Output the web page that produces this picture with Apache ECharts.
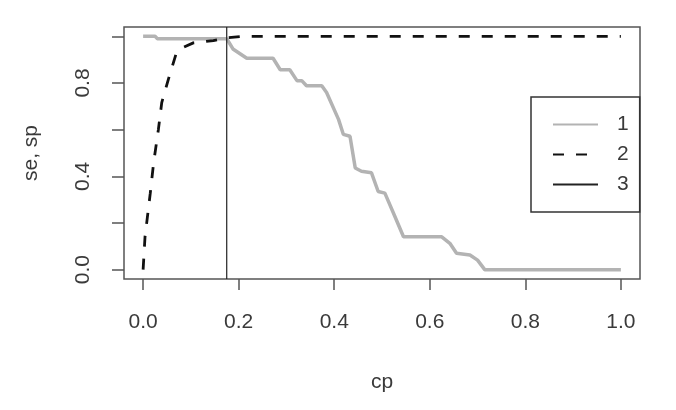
<!DOCTYPE html>
<html>
<head>
<meta charset="utf-8">
<script src="https://cdn.jsdelivr.net/npm/echarts@6/dist/echarts.min.js"></script>
<style>html,body{margin:0;padding:0;background:#fff}#c{width:676px;height:410px}</style>
</head>
<body>
<div id="c"></div>
<script>
// ---- data ----
const seCp = [0,0.025,0.03,0.175,0.188,0.217,0.272,0.287,0.307,0.322,0.332,0.342,0.374,0.384,0.409,0.419,0.433,0.444,0.457,0.478,0.492,0.506,0.527,0.545,0.625,0.642,0.656,0.684,0.70,0.715,1.0];
const seVal = [1.0,1.0,0.99,0.99,0.946,0.906,0.906,0.857,0.857,0.81,0.81,0.788,0.788,0.759,0.644,0.58,0.572,0.436,0.422,0.415,0.335,0.328,0.228,0.141,0.141,0.113,0.07,0.063,0.041,0.0,0.0];
const spCp = [0,0.004,0.015,0.022,0.032,0.039,0.053,0.07,0.077,0.105,0.147,0.175,0.21,1.0];
const spVal = [0,0.141,0.328,0.458,0.601,0.716,0.817,0.932,0.946,0.972,0.982,0.994,1.0,1.0];
const cutoff = 0.175;
const xRange = [-0.04, 1.04];
const yRange = [-0.04, 1.04];
const xTicks = [0, 0.2, 0.4, 0.6, 0.8, 1.0];
const yTicks = [0, 0.2, 0.4, 0.6, 0.8, 1.0];
const yLabelTicks = [0, 0.4, 0.8];
const legendNames = ['1', '2', '3'];
const xName = 'cp';
const yName = 'se, sp';

const zip = (a, b) => a.map((v, i) => [v, b[i]]);
const font = 'Liberation Sans, Arial, sans-serif';
const txt = '#3a3a3a';
const frame = '#555';

const chart = echarts.init(document.getElementById('c'), null, {renderer: 'canvas'});
chart.setOption({
  animation: false,
  backgroundColor: '#fff',
  grid: {left: 124, top: 27, width: 516, height: 252, show: true, borderColor: frame, borderWidth: 1.5, backgroundColor: 'transparent'},
  xAxis: {
    type: 'value', min: xRange[0], max: xRange[1],
    axisLine: {show: false, onZero: false}, splitLine: {show: false},
    axisTick: {show: true, inside: false, length: 11, customValues: xTicks, lineStyle: {color: frame, width: 1.5}},
    axisLabel: {margin: 33, fontSize: 21, color: txt, fontFamily: font, customValues: xTicks, formatter: v => v.toFixed(1)},
    name: xName, nameLocation: 'middle', nameGap: 93,
    nameTextStyle: {fontSize: 21, color: txt, fontFamily: font}
  },
  yAxis: {
    type: 'value', min: yRange[0], max: yRange[1],
    axisLine: {show: false, onZero: false}, splitLine: {show: false},
    axisTick: {show: true, inside: false, length: 12, customValues: yTicks, lineStyle: {color: frame, width: 1.5}},
    axisLabel: {rotate: 90, margin: 30, fontSize: 21, color: txt, fontFamily: font, customValues: yLabelTicks, formatter: v => v.toFixed(1)},
    name: yName, nameLocation: 'middle', nameGap: 82, nameRotate: 90,
    nameTextStyle: {fontSize: 21, color: txt, fontFamily: font}
  },
  legend: {
    orient: 'vertical', left: 531, top: 97,
    padding: [17, 11, 17, 21], itemGap: 9, itemWidth: 45, itemHeight: 20,
    borderColor: '#333', borderWidth: 1.5, backgroundColor: '#fff',
    itemStyle: {opacity: 0},
    textStyle: {fontSize: 21, color: txt, fontFamily: font, padding: [0, 0, 0, 14], lineHeight: 20},
    data: legendNames
  },
  series: [
    {name: legendNames[0], type: 'line', symbol: 'none',
     data: zip(seCp, seVal), lineStyle: {color: '#b3b3b3', width: 3.5}, itemStyle: {color: '#b3b3b3'}},
    {name: legendNames[1], type: 'line', symbol: 'none',
     data: zip(spCp, spVal), lineStyle: {color: '#111', width: 2.8, type: [11, 12]}, itemStyle: {color: '#111'}},
    {name: legendNames[2], type: 'line', symbol: 'none',
     data: yRange.map(v => [cutoff, v]), lineStyle: {color: '#222', width: 1.2}, itemStyle: {color: '#222'}}
  ]
});
</script>
</body>
</html>
